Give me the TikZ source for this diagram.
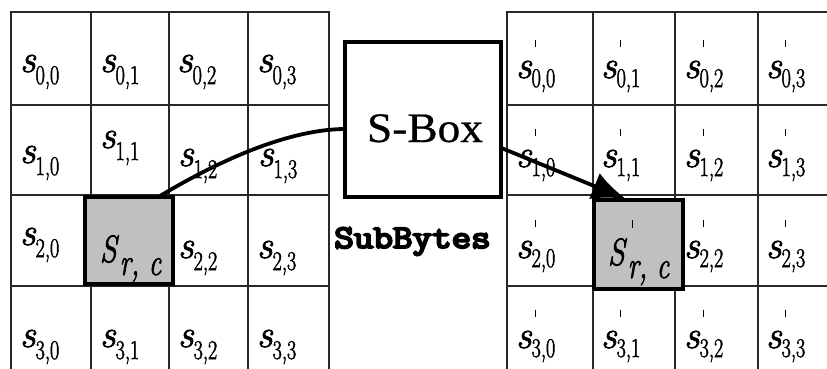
\documentclass[tikz,border=0pt]{standalone}
\usepackage{fontspec}
\usepackage{graphicx}
\newfontfamily\sboxfont{Liberation Serif}[FakeBold=0.6]
\newfontfamily\sbmono{Latin Modern Mono}[FakeBold=6]
\newfontfamily\labfont{Latin Modern Roman}[FakeBold=2]
\usetikzlibrary{arrows.meta,calc}

\newcommand{\subsc}[2]{\raisebox{-#1pt}{\scalebox{0.75}[1]{\fontsize{27}{27}\selectfont\labfont #2}}}
\newcommand{\letS}{{\fontsize{39}{39}\selectfont\labfont\itshape s}}
\newcommand{\tick}{\rlap{\hspace{3pt}\raisebox{31pt}{\rule{1.6pt}{7pt}}}}
\newcommand{\lblL}[1]{\letS\subsc{12}{#1}}
\newcommand{\lblR}[1]{\letS\tick\subsc{9}{#1}}
\newcommand{\bigS}{\scalebox{0.8}[1]{\fontsize{38}{38}\selectfont\labfont\itshape S}}
\newcommand{\subrc}{\raisebox{-13pt}{\scalebox{0.72}[1]{\fontsize{38}{38}\selectfont\labfont\itshape r, c}}}

\definecolor{gridc}{RGB}{40,40,40}
\definecolor{hlgray}{RGB}{192,192,192}

\tikzset{
  cellbox/.style={draw=gridc, line width=1.5pt, rectangle, inner sep=0pt, outer sep=0pt},
  lbl/.style={anchor=base west, inner sep=0pt, outer sep=0pt},
  hlbox/.style={draw=black, fill=hlgray, line width=3.2pt, rectangle, inner sep=0pt},
  sboxst/.style={draw=black, fill=white, line width=3.2pt, rectangle, inner sep=0pt},
  conn/.style={line width=3.8pt, black},
}

\begin{document}
\begin{tikzpicture}[x=1pt,y=-1pt]
\useasboundingbox (0,0) rectangle (827,369);
\clip (0,0) rectangle (827,369);
\fill[white] (0,0) rectangle (827,369);

% left grid
\foreach \c/\xa/\xb in {0/11/91,1/91/169,2/169/248,3/248/329}
  \foreach \r/\ya/\yb in {0/12/105,1/105/195,2/195/286,3/286/377}
    \node[cellbox, minimum width={(\xb-\xa)*1pt}, minimum height={(\yb-\ya)*1pt}]
      (L\r\c) at ({(\xa+\xb)/2},{(\ya+\yb)/2}) {};
% right grid
\foreach \c/\xa/\xb in {0/507/593,1/593/675,2/675/758,3/758/841}
  \foreach \r/\ya/\yb in {0/12/105,1/105/195,2/195/286,3/286/377}
    \node[cellbox, minimum width={(\xb-\xa)*1pt}, minimum height={(\yb-\ya)*1pt}]
      (R\r\c) at ({(\xa+\xb)/2},{(\ya+\yb)/2}) {};

% left labels
\foreach \r/\c/\x/\y in {0/0/20/72,0/1/100/72,0/2/177/72,0/3/257/72,
  1/0/20/163,1/1/100/148,1/2/178/166,1/3/258/166,
  2/0/20/245,2/2/178/258,2/3/257/258,
  3/0/20/347,3/1/100/347,3/2/178/347,3/3/257/347}
  \node[lbl] (tL\r\c) at (\x,\y) {\lblL{\r,\c}};

% right labels
\foreach \r/\c/\x/\y in {0/0/516/78,0/1/601/78,0/2/684/78,0/3/766/78,
  1/0/516/167,1/1/601/167,1/2/684/167,1/3/766/167,
  2/0/516/258,2/2/684/258,2/3/766/258,
  3/0/516/348,3/1/601/348,3/2/684/348,3/3/766/348}
  \node[lbl] (tR\r\c) at (\x,\y) {\lblR{\r,\c}};

% S-Box
\node[sboxst, minimum width=156pt, minimum height=155pt] (sbox) at (423,119.5) {};
\node[anchor=base, inner sep=0pt] (sbtext) at (425,142)
  {\scalebox{1.08}[1]{\fontsize{42}{42}\selectfont\sboxfont S-Box}};
\node[anchor=base, inner sep=0pt] (subb) at (412.5,248)
  {\scalebox{1.15}[1]{\fontsize{33}{33}\selectfont\sbmono SubBytes}};

% highlight positions
\coordinate (hlLc) at (129,240.5);
\coordinate (hlRc) at (638.5,244.5);
\coordinate (startL) at (160,196);
\coordinate (tipR) at (626,199);

% connectors
\draw[conn] (startL) .. controls (215,163) and (285,130) .. ($(sbox.west)+(0,9.5)$);
\draw[conn, -{Latex[length=34pt,width=28pt]}] ($(sbox.east)+(0,29)$) -- (tipR);

% highlighted cells
\node[hlbox, minimum width=88pt, minimum height=87pt] (hlL) at (hlLc) {};
\node[hlbox, minimum width=89pt, minimum height=89pt] (hlR) at (hlRc) {};

\node[lbl] (tLrc) at (100,262) {\bigS\hspace{3pt}\subrc};
\node[lbl] (tRrc) at (608,265)
  {\bigS\rlap{\hspace{7pt}\raisebox{37pt}{\rule{1.6pt}{8pt}}}\hspace{3pt}\subrc};
\end{tikzpicture}
\end{document}
